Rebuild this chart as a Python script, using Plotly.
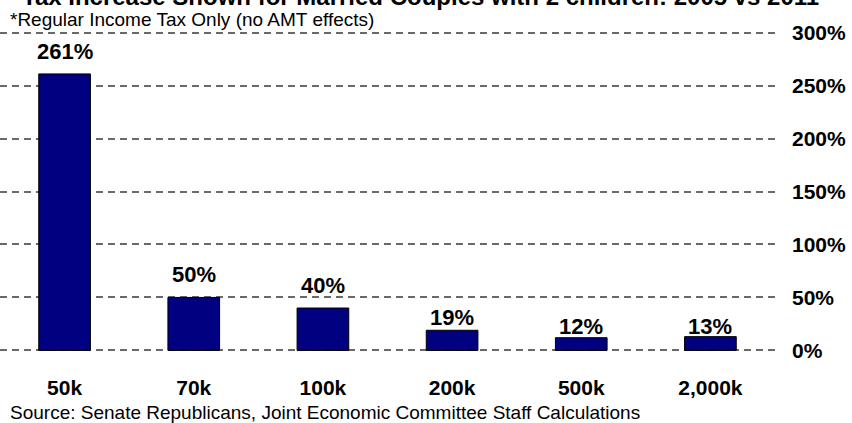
import plotly.graph_objects as go

# Income levels and the percentage tax increase for each
incomes = ["50k", "70k", "100k", "200k", "500k", "2,000k"]
increase_pct = [261, 50, 40, 19, 12, 13]
label_text = ["261%", "50%", "40%", "19%", "12%", "13%"]

y_ticks = [0, 50, 100, 150, 200, 250, 300]
y_tick_text = ["0%", "50%", "100%", "150%", "200%", "250%", "300%"]

title_text = "Tax Increase Shown for Married Couples with 2 children: 2005 vs 2011"
subtitle_text = "*Regular Income Tax Only (no AMT effects)"
source_text = "Source: Senate Republicans, Joint Economic Committee Staff Calculations"

FONT = "Liberation Sans, Arial, Helvetica, sans-serif"
# vertical gap (px) between bar top and the centre of its value label
label_gap = [22, 23, 23, 13, 11, 10]

fig = go.Figure()
fig.add_trace(go.Bar(
    x=incomes,
    y=increase_pct,
    width=0.40,
    marker=dict(color="#000080", line=dict(color="#000000", width=1)),
    hoverinfo="skip",
))

annotations = []
for cat, val, txt, gap in zip(incomes, increase_pct, label_text, label_gap):
    annotations.append(dict(
        x=cat, y=val, xref="x", yref="y", text=txt, showarrow=False,
        xanchor="center", yanchor="middle", yshift=gap,
        font=dict(family=FONT, size=22, color="#000000", weight="bold"),
    ))

annotations.append(dict(
    x=0, y=1, xref="paper", yref="paper", text=title_text, showarrow=False,
    xanchor="left", yanchor="bottom", xshift=20, yshift=19,
    font=dict(family=FONT, size=24, color="#000000", weight="bold"),
))
annotations.append(dict(
    x=0, y=1, xref="paper", yref="paper", text=subtitle_text, showarrow=False,
    xanchor="left", yanchor="middle", xshift=8, yshift=12,
    font=dict(family=FONT, size=19, color="#000000"),
))
annotations.append(dict(
    x=0, y=0, xref="paper", yref="paper", text=source_text, showarrow=False,
    xanchor="left", yanchor="middle", xshift=8, yshift=-60,
    font=dict(family=FONT, size=19, color="#000000"),
))

fig.update_layout(
    width=852,
    height=423,
    margin=dict(l=0, r=77, t=31, b=71),
    paper_bgcolor="#ffffff",
    plot_bgcolor="#ffffff",
    showlegend=False,
    bargap=0.6,
    annotations=annotations,
    xaxis=dict(
        type="category",
        showgrid=False,
        showline=False,
        zeroline=False,
        ticks="",
        ticklabelstandoff=21,
        tickfont=dict(family=FONT, size=21, color="#000000", weight="bold"),
    ),
    yaxis=dict(
        # padding beyond 0% and 300% so their grid lines are not clipped away
        range=[-1.5, 301.5],
        side="right",
        tickvals=y_ticks,
        ticktext=y_tick_text,
        showgrid=True,
        gridcolor="#6a6a6a",
        gridwidth=1.5,
        griddash="7px,5px",
        zeroline=False,
        showline=False,
        ticks="",
        ticklabelstandoff=16,
        tickfont=dict(family=FONT, size=21, color="#000000", weight="bold"),
    ),
)

fig.write_html("out.html")
